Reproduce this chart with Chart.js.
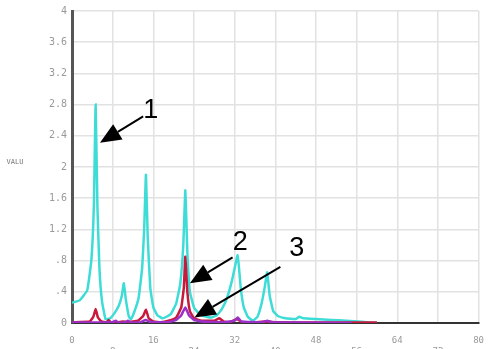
<!DOCTYPE html>
<html>
<head>
<meta charset="utf-8">
<script src="https://cdn.jsdelivr.net/npm/chart.js@4/dist/chart.umd.min.js"></script>
<style>
  html, body { margin: 0; padding: 0; background: #fff; }
  #wrap { width: 496px; height: 349px; }
</style>
</head>
<body>
<div id="wrap"><canvas id="spectrum" width="496" height="349"></canvas></div>
<script>
// x / y readings taken off the plot
const cyanX = [0, 1.5, 3.0, 3.8, 4.3, 4.65, 5.0, 5.4, 5.9, 6.6, 7.5, 8.3, 9.2, 9.8, 10.2, 10.6, 11.2, 11.6,
    12.3, 13.1, 13.8, 14.2, 14.55, 14.9, 15.4, 16.0, 16.8, 17.8, 18.6, 19.5, 20.5, 21.3, 21.9, 22.3, 22.7,
    23.2, 24.0, 25.0, 26.5, 27.5, 28.5, 29.5, 30.5, 31.5, 32.6, 33.2, 33.8, 34.6, 35.6, 36.5, 37.3, 37.9,
    38.4, 38.9, 39.6, 40.5, 42, 44, 44.7, 45.5, 48, 51, 54, 57, 60]
const cyanY = [0.26, 0.29, 0.42, 0.8, 1.5, 2.8, 1.5, 0.7, 0.28, 0.05, 0.06, 0.12, 0.22, 0.35, 0.51, 0.3, 0.08, 0.05,
    0.15, 0.32, 0.7, 1.2, 1.9, 1.1, 0.45, 0.2, 0.1, 0.06, 0.08, 0.12, 0.25, 0.5, 1.0, 1.7, 0.9,
    0.4, 0.2, 0.12, 0.08, 0.07, 0.1, 0.18, 0.32, 0.55, 0.87, 0.45, 0.2, 0.08, 0.03, 0.08, 0.25, 0.45,
    0.65, 0.35, 0.15, 0.09, 0.06, 0.05, 0.08, 0.06, 0.05, 0.04, 0.03, 0.015, 0]

const redX = [0, 3.5, 4.2, 4.65, 5.1, 5.8, 6.8, 7.2, 7.6, 9, 10, 11, 13, 14, 14.55, 15.1, 16, 17.5, 19, 20.5,
    21.5, 22, 22.3, 22.7, 23.2, 24, 25.5, 28, 29, 29.8, 31, 32.5, 33.5, 36, 38, 40, 50, 60]
const redY = [0.01, 0.02, 0.08, 0.18, 0.07, 0.02, 0.01, 0.04, 0.01, 0.01, 0.02, 0.01, 0.03, 0.09, 0.17, 0.06, 0.02, 0.01, 0.03, 0.07,
    0.2, 0.45, 0.85, 0.4, 0.15, 0.06, 0.03, 0.03, 0.06, 0.02, 0.01, 0.05, 0.01, 0.01, 0.02, 0.01, 0.005, 0.005]

const purpleX = [0, 8, 8.6, 9.2, 10.5, 11, 11.6, 13.5, 14.5, 15.5, 19, 20.5, 21.5, 22.3, 23, 24, 25.5, 30, 32,
    32.6, 33.3, 37.5, 38.4, 39.3, 45, 55]
const purpleY = [0.005, 0.01, 0.03, 0.005, 0.01, 0.03, 0.005, 0.01, 0.04, 0.01, 0.01, 0.04, 0.1, 0.2, 0.1, 0.04, 0.02, 0.01, 0.03,
    0.07, 0.02, 0.01, 0.03, 0.01, 0.005, 0]

const xTicks = [0, 8, 16, 24, 32, 40, 48, 56, 64, 72, 80]
const yTicks = [0, 0.4, 0.8, 1.2, 1.6, 2, 2.4, 2.8, 3.2, 3.6, 4]

const pts = (xs, ys) => xs.map((x, i) => ({ x: x, y: ys[i] }))

// numbered call-outs, in data units: label spot, arrow tail, arrow tip
const callouts = [
    { text: "1", at: [15.5, 2.73], from: [14.0, 2.65], to: [5.5, 2.31] },
    { text: "2", at: [33.1, 1.03], from: [31.6, 0.84], to: [23.2, 0.51] },
    { text: "3", at: [44.2, 0.96], from: [41.0, 0.72], to: [24.1, 0.07] }
]

const fmtY = v => {
    let s = String(+v.toFixed(1))
    return s.startsWith("0.") ? s.slice(1) : s
}

const sideText = {
    id: "sideText",
    afterDraw(chart) {
        const ctx = chart.ctx
        ctx.save()
        ctx.fillStyle = "#777"
        ctx.font = "7px 'DejaVu Sans Mono'"
        ctx.textAlign = "center"
        ctx.textBaseline = "middle"
        ctx.fillText("VALU", 15, 162)
        ctx.restore()
    }
}

const arrows = {
    id: "arrows",
    afterDatasetsDraw(chart) {
        const ctx = chart.ctx
        const sx = chart.scales.x, sy = chart.scales.y
        const px = p => [sx.getPixelForValue(p[0]), sy.getPixelForValue(p[1])]
        ctx.save()
        callouts.forEach(c => {
            const [x1, y1] = px(c.from)
            const [x2, y2] = px(c.to)
            const ang = Math.atan2(y2 - y1, x2 - x1)
            const headLen = 21, headW = 9
            const bx = x2 - headLen * Math.cos(ang), by = y2 - headLen * Math.sin(ang)
            ctx.strokeStyle = "#000"
            ctx.lineWidth = 2
            ctx.beginPath()
            ctx.moveTo(x1, y1)
            ctx.lineTo(bx, by)
            ctx.stroke()
            ctx.fillStyle = "#000"
            ctx.beginPath()
            ctx.moveTo(x2, y2)
            ctx.lineTo(bx + headW * Math.sin(ang), by - headW * Math.cos(ang))
            ctx.lineTo(bx - headW * Math.sin(ang), by + headW * Math.cos(ang))
            ctx.closePath()
            ctx.fill()
            const [tx, ty] = px(c.at)
            ctx.font = "27px 'Liberation Sans', Arial, sans-serif"
            ctx.textAlign = "center"
            ctx.textBaseline = "middle"
            ctx.fillText(c.text, tx, ty)
        })
        ctx.restore()
    }
}

const ctx = document.getElementById("spectrum").getContext("2d")
const spectrum = new Chart(ctx, {
    type: "line",
    data: {
        datasets: [
            { label: "3", data: pts(purpleX, purpleY), borderColor: "#9b30c8", borderWidth: 2.5 },
            { label: "2", data: pts(redX, redY), borderColor: "#c8183c", borderWidth: 2.5 },
            { label: "1", data: pts(cyanX, cyanY), borderColor: "#3edcd6", borderWidth: 2.5 }
        ]
    },
    options: {
        responsive: false,
        animation: false,
        events: [],
        elements: { point: { radius: 0 }, line: { tension: 0.1 } },
        layout: { padding: { top: 11, right: 11, left: 0, bottom: 0 } },
        plugins: { legend: { display: false }, tooltip: { enabled: false } },
        scales: {
            x: {
                type: "linear",
                min: 0,
                max: 80,
                afterBuildTicks: s => { s.ticks = xTicks.map(v => ({ value: v })) },
                afterFit: s => { s.height = 26 },
                grid: { color: "#e2e2e2", lineWidth: 1.5, drawTicks: false },
                border: { color: "#333", width: 2 },
                ticks: {
                    padding: 12,
                    maxRotation: 0,
                    autoSkip: false,
                    color: "#999",
                    font: { family: "'DejaVu Sans Mono'", size: 9, lineHeight: 1.2 },
                    callback: v => (v % 16 === 0 ? String(v) : ["", String(v)])
                }
            },
            y: {
                min: 0,
                max: 4,
                afterBuildTicks: s => { s.ticks = yTicks.map(v => ({ value: v })) },
                afterFit: s => { s.width = 72 },
                grid: { color: "#e2e2e2", lineWidth: 1.5, drawTicks: false },
                border: { color: "#555", width: 3 },
                ticks: {
                    padding: 5,
                    color: "#999",
                    font: { family: "'DejaVu Sans Mono'", size: 10 },
                    callback: v => fmtY(v)
                }
            }
        }
    },
    plugins: [sideText, arrows]
})
</script>
</body>
</html>
